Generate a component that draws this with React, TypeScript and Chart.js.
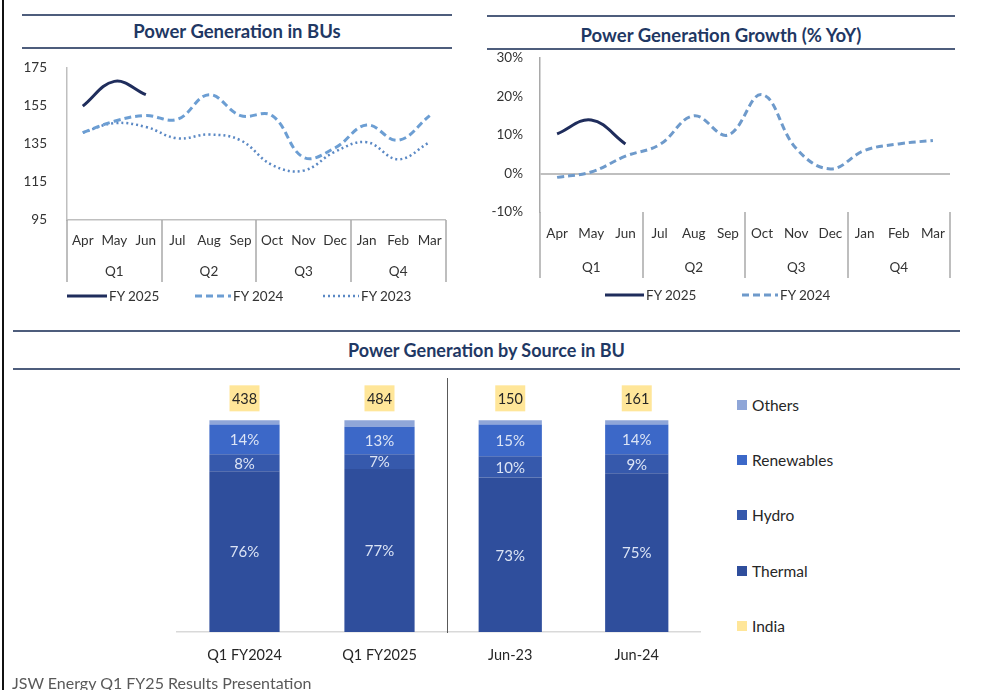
import React, { useEffect, useRef } from 'react';
import { Chart, registerables } from 'chart.js';

Chart.register(...registerables);

// ---------------- data ----------------
const months = ['Apr', 'May', 'Jun', 'Jul', 'Aug', 'Sep', 'Oct', 'Nov', 'Dec', 'Jan', 'Feb', 'Mar'];
const quarters = ['Q1', 'Q2', 'Q3', 'Q4'];

const genFY2025 = [155, 168, 161];
const genFY2024 = [141, 147, 150, 148, 161, 150, 150, 128, 133, 145, 137, 150];
const genFY2023 = [141, 146, 144, 138, 140, 137, 124, 121, 131, 136, 127, 136];

const growthFY2025 = [10.3, 13.9, 7.7];
const growthFY2024 = [-1, 0.4, 4.5, 7.5, 15, 10, 20.5, 6.5, 1.2, 6, 7.7, 8.6];

const barCatsQuarter = ['Q1 FY2024', 'Q1 FY2025'];
const barCatsMonth = ['Jun-23', 'Jun-24'];

const thermalQ = [76, 77];
const hydroQ = [8, 7];
const renewablesQ = [14, 13];
const othersQ = [2, 3];
const indiaQ = [438, 484];

const thermalM = [73, 75];
const hydroM = [10, 9];
const renewablesM = [15, 14];
const othersM = [2, 2];
const indiaM = [150, 161];

// ---------------- styles ----------------
const FONT = 'Lato, "Noto Sans", sans-serif';
const TEXT = '#333333';
const AXIS = '#BFBFBF';
const DIVIDER = '#A9A9A9';
const NAVY = '#1F2D5C';
const BLUE24 = '#6C9ED3';
const BLUE23 = '#5A88C4';
const BLUE24G = '#6E9ACB';
const C_THERMAL = '#2F4E9C';
const C_HYDRO = '#3659AC';
const C_RENEW = '#3C68C8';
const C_OTHERS = '#8FA6D8';
const C_INDIA = '#FFE699';

Chart.defaults.font.family = FONT;
Chart.defaults.color = TEXT;

// ---------------- plugins ----------------
const quarterDividers = (color: string) => ({
  id: 'quarterDividers',
  afterDraw(chart: any) {
    const x = chart.scales.x;
    const xq = chart.scales.xq;
    const ctx = chart.ctx;
    ctx.save();
    ctx.strokeStyle = color;
    ctx.lineWidth = 1.5;
    for (let k = 0; k <= 4; k++) {
      const px = Math.round(x.left + (k * x.width) / 4);
      ctx.beginPath();
      ctx.moveTo(px, x.top);
      ctx.lineTo(px, xq.bottom);
      ctx.stroke();
    }
    ctx.restore();
  },
});

const barLabels = (totals: number[]) => ({
  id: 'barLabels',
  afterDatasetsDraw(chart: any) {
    const ctx = chart.ctx;
    ctx.save();
    ctx.textAlign = 'center';
    ctx.textBaseline = 'middle';
    ctx.font = `15px ${FONT}`;
    chart.data.datasets.forEach((ds: any, di: number) => {
      if (!ds.showValue) return;
      const meta = chart.getDatasetMeta(di);
      meta.data.forEach((el: any, i: number) => {
        ctx.fillStyle = '#DCE4F5';
        ctx.fillText(ds.data[i] + '%', el.x, (el.y + el.base) / 2 + 1);
      });
    });
    ctx.font = `14.5px ${FONT}`;
    const topMeta = chart.getDatasetMeta(chart.data.datasets.length - 1);
    topMeta.data.forEach((el: any, i: number) => {
      const cy = el.y - 22;
      const w = 30;
      const h = 26;
      ctx.fillStyle = C_INDIA;
      ctx.fillRect(el.x - w / 2, cy - h / 2, w, h);
      ctx.fillStyle = '#262626';
      ctx.fillText(String(totals[i]), el.x, cy + 1);
    });
    ctx.restore();
  },
});

// ---------------- configs ----------------
const tickFont = { size: 13.5, family: FONT };

function lineConfig(): any {
  return {
    type: 'line',
    data: {
      labels: months,
      datasets: [
        { label: 'FY 2025', data: genFY2025, borderColor: NAVY, borderWidth: 3, tension: 0.4, pointRadius: 0, fill: false },
        { label: 'FY 2024', data: genFY2024, borderColor: BLUE24, borderWidth: 3, borderDash: [7, 4], tension: 0.4, pointRadius: 0, fill: false },
        { label: 'FY 2023', data: genFY2023, borderColor: BLUE23, borderWidth: 2.5, borderDash: [2, 3], tension: 0.4, pointRadius: 0, fill: false },
      ],
    },
    options: {
      responsive: false,
      animation: false,
      devicePixelRatio: 1,
      layout: { padding: { left: 0, right: 7, top: 13, bottom: 5 } },
      plugins: { legend: { display: false }, tooltip: { enabled: false } },
      scales: {
        x: {
          type: 'category',
          offset: true,
          grid: { display: false, drawTicks: false },
          border: { display: true, color: AXIS, width: 1.5 },
          ticks: { padding: 13, color: TEXT, font: tickFont, autoSkip: false, maxRotation: 0 },
          afterFit: (s: any) => { s.height = 31; },
        },
        xq: {
          type: 'category',
          labels: quarters,
          position: 'bottom',
          offset: true,
          grid: { display: false, drawTicks: false },
          border: { display: false },
          ticks: { padding: 13, color: TEXT, font: tickFont, autoSkip: false, maxRotation: 0 },
          afterFit: (s: any) => { s.height = 31; },
        },
        y: {
          min: 95,
          max: 175,
          ticks: { stepSize: 20, padding: 20, color: TEXT, font: tickFont },
          grid: { display: false, drawTicks: false },
          border: { display: true, color: AXIS, width: 1.5 },
          afterFit: (s: any) => { s.width = 52; },
        },
      },
    },
    plugins: [quarterDividers(DIVIDER)],
  };
}

function growthConfig(): any {
  return {
    type: 'line',
    data: {
      labels: months,
      datasets: [
        { label: 'FY 2025', data: growthFY2025, borderColor: NAVY, borderWidth: 3, tension: 0.4, pointRadius: 0, fill: false },
        { label: 'FY 2024', data: growthFY2024, borderColor: BLUE24G, borderWidth: 3, borderDash: [7, 4], tension: 0.4, pointRadius: 0, fill: false },
      ],
    },
    options: {
      responsive: false,
      animation: false,
      devicePixelRatio: 1,
      layout: { padding: { left: 0, right: 10, top: 12, bottom: 5 } },
      plugins: { legend: { display: false }, tooltip: { enabled: false } },
      scales: {
        x: {
          type: 'category',
          offset: true,
          grid: { display: false, drawTicks: false },
          border: { display: false },
          ticks: { padding: 14, color: TEXT, font: tickFont, autoSkip: false, maxRotation: 0 },
          afterFit: (s: any) => { s.height = 34; },
        },
        xq: {
          type: 'category',
          labels: quarters,
          position: 'bottom',
          offset: true,
          grid: { display: false, drawTicks: false },
          border: { display: false },
          ticks: { padding: 14, color: TEXT, font: tickFont, autoSkip: false, maxRotation: 0 },
          afterFit: (s: any) => { s.height = 32; },
        },
        y: {
          min: -10,
          max: 30,
          ticks: { stepSize: 10, padding: 17, color: TEXT, font: tickFont, callback: (v: any) => v + '%' },
          grid: {
            display: true,
            drawTicks: false,
            lineWidth: 2,
            color: (c: any) => (c.tick && c.tick.value === 0 ? AXIS : 'rgba(0,0,0,0)'),
          },
          border: { display: true, color: DIVIDER, width: 1.5 },
          afterFit: (s: any) => { s.width = 60; },
        },
      },
    },
    plugins: [quarterDividers(DIVIDER)],
  };
}

function barConfig(labels: string[], th: number[], hy: number[], re: number[], ot: number[], totals: number[], withDivider: boolean): any {
  const common = { borderWidth: 0, categoryPercentage: 1 };
  const bp = withDivider ? 0.5 : 0.52;
  return {
    type: 'bar',
    data: {
      labels,
      datasets: [
        { label: 'Thermal', data: th, backgroundColor: C_THERMAL, showValue: true, barPercentage: bp, ...common },
        { label: 'Hydro', data: hy, backgroundColor: C_HYDRO, showValue: true, barPercentage: bp, ...common },
        { label: 'Renewables', data: re, backgroundColor: C_RENEW, showValue: true, barPercentage: bp, ...common },
        { label: 'Others', data: ot, backgroundColor: C_OTHERS, showValue: false, barPercentage: bp, ...common },
      ],
    },
    options: {
      responsive: false,
      animation: false,
      devicePixelRatio: 1,
      layout: { padding: { left: withDivider ? 0 : 7, right: withDivider ? 5 : 0, top: 8, bottom: 8 } },
      plugins: { legend: { display: false }, tooltip: { enabled: false } },
      scales: {
        x: {
          stacked: true,
          grid: { display: false, drawTicks: false },
          border: { display: true, color: '#D9D9D9', width: 1.5 },
          ticks: { padding: 15, color: '#262626', font: { size: 14.5, family: FONT } },
          afterFit: (s: any) => { s.height = 40; },
        },
        y: {
          stacked: true,
          min: 0,
          max: 120,
          display: withDivider,
          ticks: { display: false },
          grid: { display: false, drawTicks: false },
          border: { display: true, color: '#595959', width: 1, dash: [3, 3] },
          afterFit: (s: any) => { s.width = 0; },
        },
      },
    },
    plugins: [barLabels(totals)],
  };
}

// ---------------- components ----------------
function ChartBox({ make, left, top, width, height }: { make: () => any; left: number; top: number; width: number; height: number }) {
  const ref = useRef<HTMLCanvasElement>(null);
  useEffect(() => {
    const chart = new Chart(ref.current as HTMLCanvasElement, make());
    return () => chart.destroy();
  }, []);
  return (
    <div style={{ position: 'absolute', left, top, width, height }}>
      <canvas ref={ref} width={width} height={height} style={{ display: 'block', width, height }} />
    </div>
  );
}

function Header({ left, width, y1, y2, title, ty, size }: { left: number; width: number; y1: number; y2: number; title: string; ty: number; size: number }) {
  const line = '#4E5D7C';
  return (
    <>
      <div style={{ position: 'absolute', left, top: y1 - 1, width, height: 2, background: line }} />
      <div style={{ position: 'absolute', left, top: y2 - 1, width, height: 2, background: line }} />
      <div
        style={{
          position: 'absolute', left, width, top: ty - 12, height: 24, lineHeight: '24px',
          textAlign: 'center', fontFamily: FONT, fontWeight: 700, fontSize: size, color: '#1F3864', whiteSpace: 'nowrap',
        }}
      >
        {title}
      </div>
    </>
  );
}

function LineKey({ x, y, w, color, dash, sw, label }: { x: number; y: number; w: number; color: string; dash?: string; sw: number; label: string }) {
  return (
    <div style={{ position: 'absolute', left: x, top: y - 10, height: 20, display: 'flex', alignItems: 'center', whiteSpace: 'nowrap' }}>
      <svg width={w} height={8} style={{ display: 'block' }}>
        <line x1={0} y1={4} x2={w} y2={4} stroke={color} strokeWidth={sw} strokeDasharray={dash} />
      </svg>
      <span style={{ marginLeft: 2, fontFamily: FONT, fontSize: 13.5, color: TEXT }}>{label}</span>
    </div>
  );
}

function BoxKey({ x, y, color, label }: { x: number; y: number; color: string; label: string }) {
  return (
    <div style={{ position: 'absolute', left: x, top: y - 10, height: 20, display: 'flex', alignItems: 'center', whiteSpace: 'nowrap' }}>
      <div style={{ width: 10, height: 10, background: color }} />
      <span style={{ marginLeft: 5, fontFamily: FONT, fontSize: 15.5, color: '#262626' }}>{label}</span>
    </div>
  );
}

export default function App() {
  return (
    <div style={{ position: 'absolute', left: 0, top: 0, width: 990, height: 690, background: '#ffffff', overflow: 'hidden', fontFamily: FONT }}>
      <div style={{ position: 'absolute', left: 2, top: 0, width: 2, height: 690, background: '#111' }} />

      <Header left={22} width={430} y1={15} y2={48} title="Power Generation in BUs" ty={31} size={18.5} />
      <Header left={487} width={468} y1={16} y2={49} title="Power Generation Growth (% YoY)" ty={35} size={18.5} />
      <Header left={13} width={947} y1={331} y2={369} title="Power Generation by Source in BU" ty={350} size={18} />

      <ChartBox make={lineConfig} left={15} top={40} width={440} height={247} />
      <ChartBox make={growthConfig} left={480} top={33} width={480} height={250} />

      <LineKey x={67} y={296} w={40} color={NAVY} sw={3} label="FY 2025" />
      <LineKey x={195} y={296} w={36} color={BLUE24} sw={3} dash="7 4" label="FY 2024" />
      <LineKey x={323} y={296} w={36} color={BLUE23} sw={2.5} dash="2 3" label="FY 2023" />

      <LineKey x={605} y={295} w={39} color={NAVY} sw={3} label="FY 2025" />
      <LineKey x={742} y={295} w={36} color={BLUE24G} sw={3} dash="7 4" label="FY 2024" />

      <ChartBox make={() => barConfig(barCatsQuarter, thermalQ, hydroQ, renewablesQ, othersQ, indiaQ, false)} left={170} top={370} width={277} height={310} />
      <ChartBox make={() => barConfig(barCatsMonth, thermalM, hydroM, renewablesM, othersM, indiaM, true)} left={447} top={370} width={258} height={310} />

      <BoxKey x={737} y={405} color={C_OTHERS} label="Others" />
      <BoxKey x={737} y={460} color={C_RENEW} label="Renewables" />
      <BoxKey x={737} y={515} color={C_HYDRO} label="Hydro" />
      <BoxKey x={737} y={571} color={C_THERMAL} label="Thermal" />
      <BoxKey x={737} y={626} color={C_INDIA} label="India" />

      <div style={{ position: 'absolute', left: 12, top: 673, fontFamily: FONT, fontSize: 16, color: '#595959', whiteSpace: 'nowrap', lineHeight: '20px' }}>
        JSW Energy Q1 FY25 Results Presentation
      </div>
    </div>
  );
}
